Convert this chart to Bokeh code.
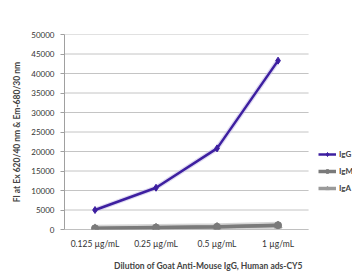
from bokeh.plotting import figure
from bokeh.models import Range1d, Legend, LegendItem, FixedTicker, NumeralTickFormatter
from bokeh.embed import file_html
from bokeh.resources import INLINE

categories = ["0.125 µg/mL", "0.25 µg/mL", "0.5 µg/mL", "1 µg/mL"]
series_names = ["IgG", "IgM", "IgA"]
igg = [5000, 10700, 20800, 43300]
igm = [300, 500, 700, 1100]
iga = [250, 450, 650, 1000]
y_ticks = list(range(0, 50001, 5000))

FONT = "Lato"
C_IGG, C_IGM, C_IGA = "#3d1fa0", "#7a7a7a", "#9a9a9a"

xs = [i + 0.5 for i in range(len(categories))]
n = len(categories)

p = figure(frame_width=288, frame_height=195, x_range=Range1d(0, 4.72), y_range=Range1d(0, 50000),
           output_backend="svg", toolbar_location=None,
           min_border_left=64, min_border_right=0, min_border_top=34, min_border_bottom=40)
p.outline_line_color = None
p.background_fill_color = "white"
p.grid.visible = False

# horizontal gridlines limited to the category area
p.segment(x0=[0] * len(y_ticks), x1=[n] * len(y_ticks), y0=y_ticks, y1=y_ticks,
          line_color="#c4c4c4", line_width=1)
p.segment(x0=[0], x1=[n], y0=[0], y1=[0], line_color="#a0a0a0", line_width=1)

p.yaxis.ticker = FixedTicker(ticks=y_ticks)
p.yaxis.formatter = NumeralTickFormatter(format="0")
p.yaxis.axis_line_color = "#a0a0a0"
p.yaxis.major_tick_line_color = "#a0a0a0"
p.yaxis.major_tick_in = 0
p.yaxis.major_tick_out = 4
p.yaxis.minor_tick_line_color = None
p.yaxis.major_label_text_font = FONT
p.yaxis.major_label_text_font_size = "8px"
p.yaxis.major_label_text_color = "#333333"
p.yaxis.major_label_standoff = 6
p.yaxis.axis_label = "Fl at Ex 620/40 nm & Em-680/30 nm"
p.yaxis.axis_label_text_font = FONT
p.yaxis.axis_label_text_font_style = "bold"
p.yaxis.axis_label_text_font_size = "8.5px"
p.yaxis.axis_label_standoff = 6

p.xaxis.ticker = FixedTicker(ticks=xs)
p.xaxis.major_label_overrides = {x: c for x, c in zip(xs, categories)}
p.xaxis.axis_line_color = None
p.xaxis.major_tick_line_color = None
p.xaxis.minor_tick_line_color = None
p.xaxis.major_label_text_font = FONT
p.xaxis.major_label_text_font_size = "8.5px"
p.xaxis.major_label_text_color = "#333333"
p.xaxis.major_label_standoff = 3
p.xaxis.axis_label = "Dilution of Goat Anti-Mouse IgG, Human ads-CY5"
p.xaxis.axis_label_text_font = FONT
p.xaxis.axis_label_text_font_style = "bold"
p.xaxis.axis_label_text_font_size = "8.5px"
p.xaxis.axis_label_standoff = 9

# shadows
p.line(xs, igg, line_color="#c8bfe8", line_width=5, line_alpha=0.6)
p.line(xs, igm, line_color="#bbbbbb", line_width=7, line_alpha=0.6)

l_iga = p.line(xs, iga, line_color=C_IGA, line_width=3.5)
m_iga = p.scatter(xs, iga, marker="triangle", size=8, color=C_IGA)
l_igm = p.line(xs, igm, line_color=C_IGM, line_width=3.5)
m_igm = p.scatter(xs, igm, marker="circle", size=7, color=C_IGM)
l_igg = p.line(xs, igg, line_color=C_IGG, line_width=2.5)
m_igg = p.scatter(xs, igg, marker="diamond", size=7, color=C_IGG)

legend = Legend(items=[
    LegendItem(label=series_names[0], renderers=[l_igg, m_igg]),
    LegendItem(label=series_names[1], renderers=[l_igm, m_igm]),
    LegendItem(label=series_names[2], renderers=[l_iga, m_iga]),
], location=(254, 36))
legend.label_text_font = FONT
legend.label_text_font_style = "bold"
legend.label_text_font_size = "8px"
legend.label_text_color = "#444444"
legend.glyph_width = 18
legend.glyph_height = 10
legend.spacing = 7
legend.padding = 0
legend.margin = 0
legend.label_standoff = 3
legend.border_line_color = None
legend.background_fill_alpha = 0
p.add_layout(legend, "center")

open("out.html", "w").write(file_html(p, INLINE))
